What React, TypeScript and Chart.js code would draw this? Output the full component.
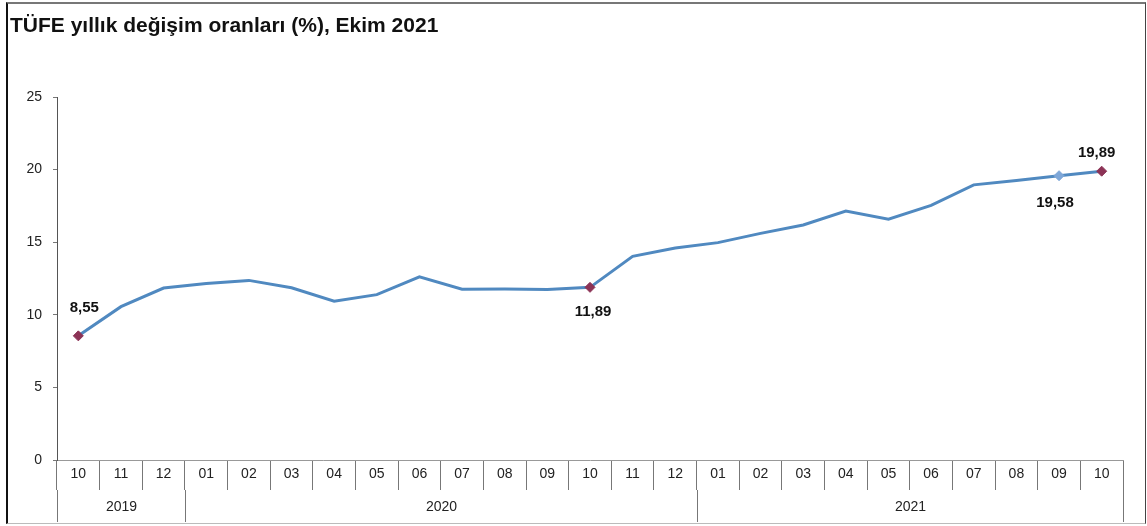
import React, { useEffect, useRef } from "react";
import { Chart, registerables } from "chart.js";

Chart.register(...registerables);

const months = ["10","11","12","01","02","03","04","05","06","07","08","09","10","11","12","01","02","03","04","05","06","07","08","09","10"];
const years = ["2019","2019","2019","2020","2020","2020","2020","2020","2020","2020","2020","2020","2020","2020","2020","2021","2021","2021","2021","2021","2021","2021","2021","2021","2021"];
const values = [8.55,10.56,11.84,12.15,12.37,11.86,10.94,11.39,12.62,11.76,11.77,11.75,11.89,14.03,14.60,14.97,15.61,16.19,17.14,16.59,17.53,18.95,19.25,19.58,19.89];
const labeledIdx = [0, 12, 23, 24];
const yTicks = [0, 5, 10, 15, 20, 25];
const title = "TÜFE yıllık değişim oranları (%), Ekim 2021";

// styling for labels / markers (not data)
const labelOffsets: Record<number, [number, number]> = { 0: [6, -28], 12: [3, 25], 23: [-4, 27], 24: [-5, -18] };
const markerColors: Record<number, string> = { 0: "#8c3356", 12: "#8c3356", 23: "#7ea7d8", 24: "#8c3356" };
const FONT = "'Liberation Sans', Arial, sans-serif";

const fmt = (v: number) => v.toFixed(2).replace(".", ",");

export default function App() {
  const ref = useRef<HTMLCanvasElement | null>(null);
  useEffect(() => {
    if (!ref.current) return;
    const yearRow = {
      id: "yearRow",
      afterDraw(chart: any) {
        const ctx = chart.ctx;
        const xs = chart.scales.x;
        const half = (xs.getPixelForValue(1) - xs.getPixelForValue(0)) / 2;
        const top = chart.chartArea.bottom + 30;
        const bottom = top + 32;
        ctx.save();
        ctx.strokeStyle = "#777";
        ctx.lineWidth = 1;
        ctx.fillStyle = "#222";
        ctx.font = "14px " + FONT;
        ctx.textAlign = "center";
        ctx.textBaseline = "middle";
        let start = 0;
        for (let i = 1; i <= years.length; i++) {
          if (i === years.length || years[i] !== years[start]) {
            const x0 = Math.round(xs.getPixelForValue(start) - half) + 0.5;
            const x1 = Math.round(xs.getPixelForValue(i - 1) + half) + 0.5;
            ctx.beginPath();
            ctx.moveTo(x0, top);
            ctx.lineTo(x0, bottom);
            ctx.moveTo(x1, top);
            ctx.lineTo(x1, bottom);
            ctx.stroke();
            ctx.fillText(years[start], (x0 + x1) / 2, top + 17);
            start = i;
          }
        }
        ctx.restore();
      },
    };
    const dataLabels = {
      id: "dataLabels",
      afterDatasetsDraw(chart: any) {
        const ctx = chart.ctx;
        const meta = chart.getDatasetMeta(0);
        ctx.save();
        ctx.fillStyle = "#111";
        ctx.font = "bold 15px " + FONT;
        ctx.textAlign = "center";
        ctx.textBaseline = "middle";
        labeledIdx.forEach((i) => {
          const p = meta.data[i];
          const [dx, dy] = labelOffsets[i];
          ctx.fillText(fmt(values[i]), p.x + dx, p.y + dy);
        });
        ctx.restore();
      },
    };
    const chart = new Chart(ref.current, {
      type: "line",
      data: {
        labels: months,
        datasets: [
          {
            data: values,
            borderColor: "#5089c0",
            borderWidth: 3,
            tension: 0,
            pointStyle: "rectRot",
            pointRadius: values.map((_, i) => (labeledIdx.includes(i) ? 5 : 0)),
            pointBackgroundColor: values.map((_, i) => markerColors[i] || "#5089c0"),
            pointBorderColor: values.map((_, i) => markerColors[i] || "#5089c0"),
            pointBorderWidth: 1,
          },
        ],
      },
      options: {
        responsive: false,
        animation: false,
        events: [],
        layout: { padding: { left: 7, right: 24, top: 97, bottom: 0 } },
        plugins: { legend: { display: false }, tooltip: { enabled: false }, title: { display: false } },
        scales: {
          x: {
            type: "category",
            offset: true,
            grid: { offset: true, drawOnChartArea: false, color: "#777", tickLength: 30 },
            border: { display: true, color: "#999", width: 1 },
            ticks: {
              color: "#222",
              font: { size: 14, family: FONT },
              padding: -24,
              maxRotation: 0,
              autoSkip: false,
            },
            afterFit(scale: any) {
              scale.height = 66;
            },
          },
          y: {
            min: 0,
            max: 25,
            afterBuildTicks(scale: any) {
              scale.ticks = yTicks.map((v) => ({ value: v }));
            },
            grid: { drawOnChartArea: false, color: "#777", tickLength: 4 },
            border: { display: true, color: "#555", width: 1 },
            ticks: {
              color: "#222",
              font: { size: 14, family: FONT },
              padding: 11,
            },
            afterFit(scale: any) {
              scale.width = 50;
            },
          },
        },
      },
      plugins: [yearRow, dataLabels],
    } as any);
    return () => chart.destroy();
  }, []);

  return (
    <div style={{ position: "fixed", left: 0, top: 0, width: 1147, height: 526, background: "#fff", overflow: "hidden" }}>
      <canvas ref={ref} width={1147} height={526} style={{ position: "absolute", left: 0, top: 0, display: "block" }} />
      <div
        style={{
          position: "absolute",
          left: 6,
          top: 2,
          width: 1137,
          height: 519,
          borderTop: "2px solid #777",
          borderLeft: "2px solid #111",
          borderRight: "1px solid #444",
          borderBottom: "1px solid #bbb",
          pointerEvents: "none",
        }}
      />
      <div
        style={{
          position: "absolute",
          left: 10,
          top: 13,
          fontFamily: FONT,
          fontWeight: "bold",
          fontSize: 21,
          color: "#111",
          whiteSpace: "nowrap",
        }}
      >
        {title}
      </div>
    </div>
  );
}
